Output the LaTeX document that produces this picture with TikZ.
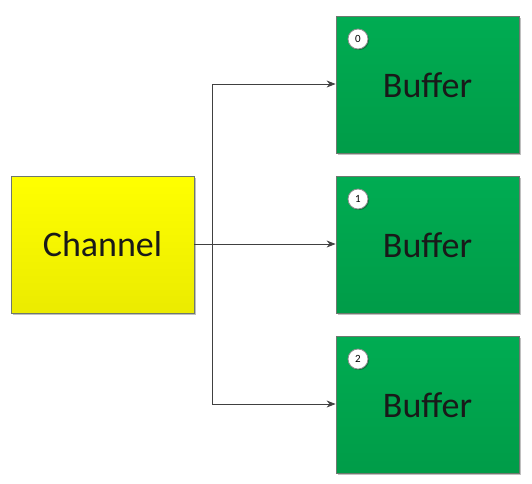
\documentclass[tikz,border=0pt]{standalone}
\usepackage{fontspec}
\setmainfont{Carlito}
\usetikzlibrary{arrows.meta,shadows}
\definecolor{bufgreen}{RGB}{0,172,82}
\definecolor{bufgreendark}{RGB}{0,156,72}
\definecolor{chanyellow}{RGB}{255,255,0}
\definecolor{chanyellowdark}{RGB}{235,235,0}
\definecolor{edgegray}{RGB}{110,120,110}
\definecolor{wiregray}{RGB}{64,64,64}
\tikzset{
  box/.style={draw=edgegray, line width=0.8pt, minimum width=183pt, minimum height=137pt,
    inner sep=0pt, font=\fontsize{36}{40}\selectfont, text=black!90,
    drop shadow={shadow xshift=1.5pt, shadow yshift=-1.5pt, opacity=0.25, fill=black}},
  bufbox/.style={box, top color=bufgreen, bottom color=bufgreendark},
  chanbox/.style={box, top color=chanyellow, bottom color=chanyellowdark},
  badge/.style={circle, draw=black!45, line width=0.8pt, fill=white, minimum size=20pt,
    inner sep=0pt, font=\fontsize{11}{11}\selectfont,
    drop shadow={shadow xshift=1pt, shadow yshift=-1pt, opacity=0.3, fill=black}},
  wire/.style={draw=wiregray, line width=0.9pt, -{Stealth[length=9pt,width=7pt]}}
}
\begin{document}
\begin{tikzpicture}[x=1pt,y=-1pt]
  \useasboundingbox (0,0) rectangle (532,483);
  \node[chanbox] (chan) at (102.5,244.5) {Channel};
  \node[bufbox] (b0) at (427.5,85) {Buffer};
  \node[bufbox] (b1) at (427.5,245) {Buffer};
  \node[bufbox] (b2) at (427.5,405) {Buffer};
  \node[badge] (n0) at (358,39) {0};
  \node[badge] (n1) at (358,199) {1};
  \node[badge] (n2) at (358,359) {2};
  \coordinate (fork) at (212,244);
  \draw[wiregray, line width=0.9pt] (chan.east |- fork) -- (fork);
  \draw[wire] (fork) |- (b0.west |- 0,84);
  \draw[wire] (fork) -- (b1.west |- fork);
  \draw[wire] (fork) |- (b2.west |- 0,404);
\end{tikzpicture}
\end{document}
